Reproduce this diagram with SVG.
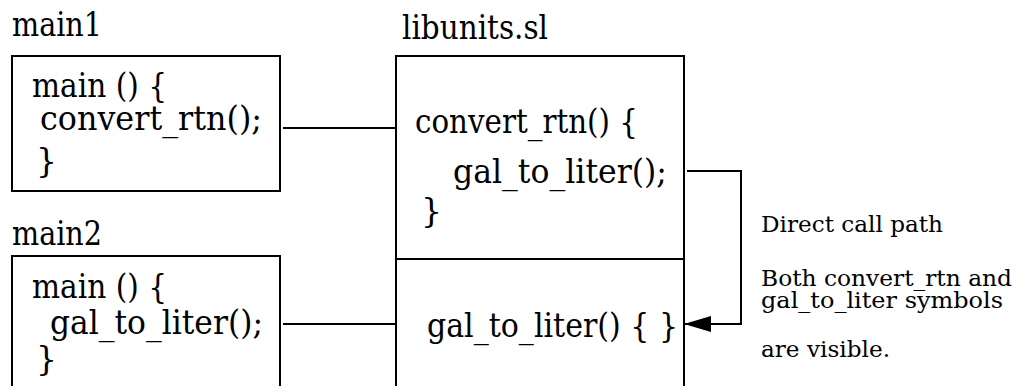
<svg xmlns="http://www.w3.org/2000/svg" width="1017" height="386" viewBox="0 0 1017 386">
  <style>
    .box { fill: #ffffff; stroke: #000000; stroke-width: 2; }
    .wire { fill: none; stroke: #000000; stroke-width: 2; }
    .code { font-family: 'DejaVu Serif', serif; font-size: 33px; fill: #000000; }
    .note { font-family: 'DejaVu Serif', serif; font-size: 22px; fill: #000000; }
  </style>
  <defs>
    <marker id="arrowhead" markerUnits="userSpaceOnUse" markerWidth="28" markerHeight="18" refX="27" refY="8" orient="auto">
      <path d="M0,0 L27,8 L0,16 Z" fill="#000000"/>
    </marker>
  </defs>

  <rect width="1017" height="386" fill="#ffffff"/>

  <!-- program main1 -->
  <g id="main1">
    <text class="code" x="12" y="36" textLength="90" lengthAdjust="spacingAndGlyphs">main1</text>
    <rect class="box" x="12" y="56" width="268" height="135"/>
    <text class="code" x="32" y="97" textLength="135" lengthAdjust="spacingAndGlyphs">main () {</text>
    <text class="code" x="40" y="130" textLength="222" lengthAdjust="spacingAndGlyphs">convert_rtn();</text>
    <text class="code" x="36" y="172">}</text>
  </g>

  <!-- program main2 -->
  <g id="main2">
    <text class="code" x="12" y="245" textLength="90" lengthAdjust="spacingAndGlyphs">main2</text>
    <rect class="box" x="12" y="256" width="268" height="140"/>
    <text class="code" x="32" y="298" textLength="135" lengthAdjust="spacingAndGlyphs">main () {</text>
    <text class="code" x="50" y="334" textLength="213" lengthAdjust="spacingAndGlyphs">gal_to_liter();</text>
    <text class="code" x="36" y="370">}</text>
  </g>

  <!-- shared library libunits.sl -->
  <g id="libunits">
    <text class="code" x="402" y="39" textLength="146" lengthAdjust="spacingAndGlyphs">libunits.sl</text>
    <rect class="box" x="396" y="56" width="288" height="340"/>
    <line class="wire" x1="396" y1="259" x2="684" y2="259"/>
    <text class="code" x="415" y="133" textLength="223" lengthAdjust="spacingAndGlyphs">convert_rtn() {</text>
    <text class="code" x="453" y="183" textLength="214" lengthAdjust="spacingAndGlyphs">gal_to_liter();</text>
    <text class="code" x="421" y="222">}</text>
    <text class="code" x="427" y="337" textLength="251" lengthAdjust="spacingAndGlyphs">gal_to_liter() {  }</text>
  </g>

  <!-- explanatory notes -->
  <g id="notes">
    <text class="note" x="761" y="232" textLength="182" lengthAdjust="spacingAndGlyphs">Direct call path</text>
    <text class="note" x="761" y="286" textLength="251" lengthAdjust="spacingAndGlyphs">Both convert_rtn and</text>
    <text class="note" x="761" y="308" textLength="242" lengthAdjust="spacingAndGlyphs">gal_to_liter symbols</text>
    <text class="note" x="761" y="357" textLength="129" lengthAdjust="spacingAndGlyphs">are visible.</text>
  </g>

  <!-- calls between programs and library routines -->
  <g id="connectors">
    <line class="wire" x1="283" y1="128" x2="396" y2="128"/>
    <line class="wire" x1="283" y1="324" x2="396" y2="324"/>
    <polyline class="wire" points="687,171 741,171 741,324 684,324" marker-end="url(#arrowhead)"/>
  </g>
</svg>
